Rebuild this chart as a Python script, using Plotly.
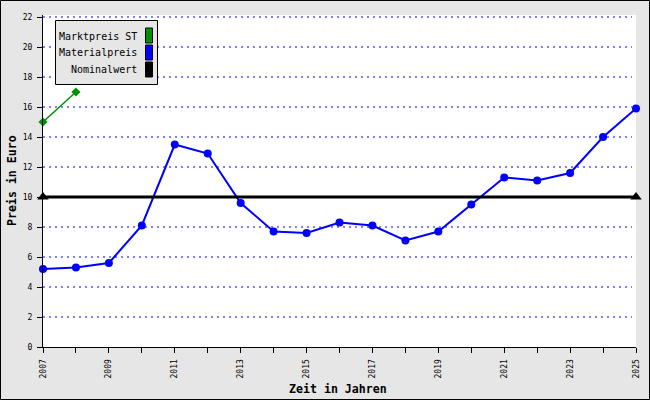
import plotly.graph_objects as go

# ---- data ----
years = list(range(2007, 2026))
material = [5.2, 5.3, 5.6, 8.1, 13.5, 12.9, 9.6, 7.7, 7.6, 8.3, 8.1, 7.1, 7.7, 9.5, 11.3, 11.1, 11.6, 14.0, 15.9]
markt_years = [2007, 2008]
markt = [15.0, 17.0]
nominal_years = [2007, 2025]
nominal = [10.0, 10.0]
series_names = ["Marktpreis ST", "Materialpreis", "Nominalwert"]
series_colors = ["#009000", "#0000ff", "#000000"]
y_ticks = list(range(0, 23, 2))
x_ticktext = [str(y) if (y - 2007) % 2 == 0 else "" for y in years]
x_title = "Zeit in Jahren"
y_title = "Preis in Euro"

# ---- layout geometry ----
W, H = 650, 400
L, R, T, B = 43, 14, 15, 53
PW, PH = W - L - R, H - T - B
BG = "#e6e6e6"
MONO = "DejaVu Sans Mono"


def px(x):
    return (x - L) / PW


def py(y):
    return (H - B - y) / PH


fig = go.Figure()
fig.add_trace(go.Scatter(x=years, y=material, name=series_names[1], mode="lines+markers",
                         line=dict(color=series_colors[1], width=2),
                         marker=dict(symbol="circle", size=8, color=series_colors[1]),
                         cliponaxis=False, showlegend=False))
fig.add_trace(go.Scatter(x=markt_years, y=markt, name=series_names[0], mode="lines+markers",
                         line=dict(color=series_colors[0], width=1.5),
                         marker=dict(symbol="diamond", size=7, color=series_colors[0]),
                         cliponaxis=False, showlegend=False))
fig.add_trace(go.Scatter(x=nominal_years, y=nominal, name=series_names[2], mode="lines+markers",
                         line=dict(color=series_colors[2], width=3),
                         marker=dict(symbol="triangle-up", size=10, color=series_colors[2]),
                         cliponaxis=False, showlegend=False))

shapes = []
annotations = []
# dotted blue horizontal grid, one line per y tick
for t in y_ticks[1:]:
    shapes.append(dict(type="line", xref="paper", yref="y", x0=0, x1=px(632), y0=t, y1=t,
                       line=dict(color="#0000ff", width=1, dash="2px,4px"), layer="below"))
# legend box
shapes.append(dict(type="rect", xref="paper", yref="paper", x0=px(55.5), x1=px(157.5), y0=py(84.5), y1=py(20.5),
                   fillcolor=BG, line=dict(color="black", width=1), layer="above"))
row_centers = [36, 53, 70]
sw_tops = [28, 45, 62]
for name, col, yc, st in zip(series_names, series_colors, row_centers, sw_tops):
    annotations.append(dict(xref="paper", yref="paper", x=px(139), y=py(yc), xanchor="right", yanchor="middle",
                            text=name, showarrow=False, font=dict(family=MONO, size=10, color="black")))
    shapes.append(dict(type="rect", xref="paper", yref="paper", x0=px(145.5), x1=px(152.5), y0=py(st + 15), y1=py(st),
                       fillcolor=col, line=dict(color="black", width=1), layer="above"))
# outer frame
shapes.append(dict(type="rect", xref="paper", yref="paper", x0=px(0.5), x1=px(W - 0.5), y0=py(H - 0.5), y1=py(0.5),
                   line=dict(color="black", width=1), fillcolor="rgba(0,0,0,0)", layer="above"))

annotations.append(dict(xref="paper", yref="paper", x=px(338), y=py(389), xanchor="center", yanchor="middle",
                        text="<b>" + x_title + "</b>", showarrow=False, font=dict(family=MONO, size=11.6, color="black")))
annotations.append(dict(xref="paper", yref="paper", x=px(12), y=py(181), xanchor="center", yanchor="middle",
                        text="<b>" + y_title + "</b>", textangle=-90, showarrow=False,
                        font=dict(family=MONO, size=11.6, color="black")))

fig.update_layout(
    width=W, height=H,
    margin=dict(l=L, r=R, t=T, b=B, pad=0, autoexpand=False),
    paper_bgcolor=BG, plot_bgcolor="white",
    showlegend=False,
    shapes=shapes, annotations=annotations,
    xaxis=dict(range=[2007, 2025], tickmode="array", tickvals=years, ticktext=x_ticktext,
               tickangle=-90, ticks="outside", ticklen=5, tickcolor="black", tickwidth=1,
               showline=True, linecolor="black", linewidth=1, showgrid=False, zeroline=False,
               tickfont=dict(family=MONO, size=8, color="black"), ticklabelstandoff=3, automargin=False),
    yaxis=dict(range=[0, 22 + 2 / 15], tickmode="array", tickvals=y_ticks,
               ticks="outside", ticklen=5, tickcolor="black", tickwidth=1,
               showline=True, linecolor="black", linewidth=1, zeroline=False, showgrid=False,
               tickfont=dict(family=MONO, size=8, color="black"), ticklabelstandoff=3, automargin=False),
)

fig.write_html("out.html", config={"displayModeBar": False},
               post_script="document.body.style.margin='0px';document.body.style.overflow='hidden';")
